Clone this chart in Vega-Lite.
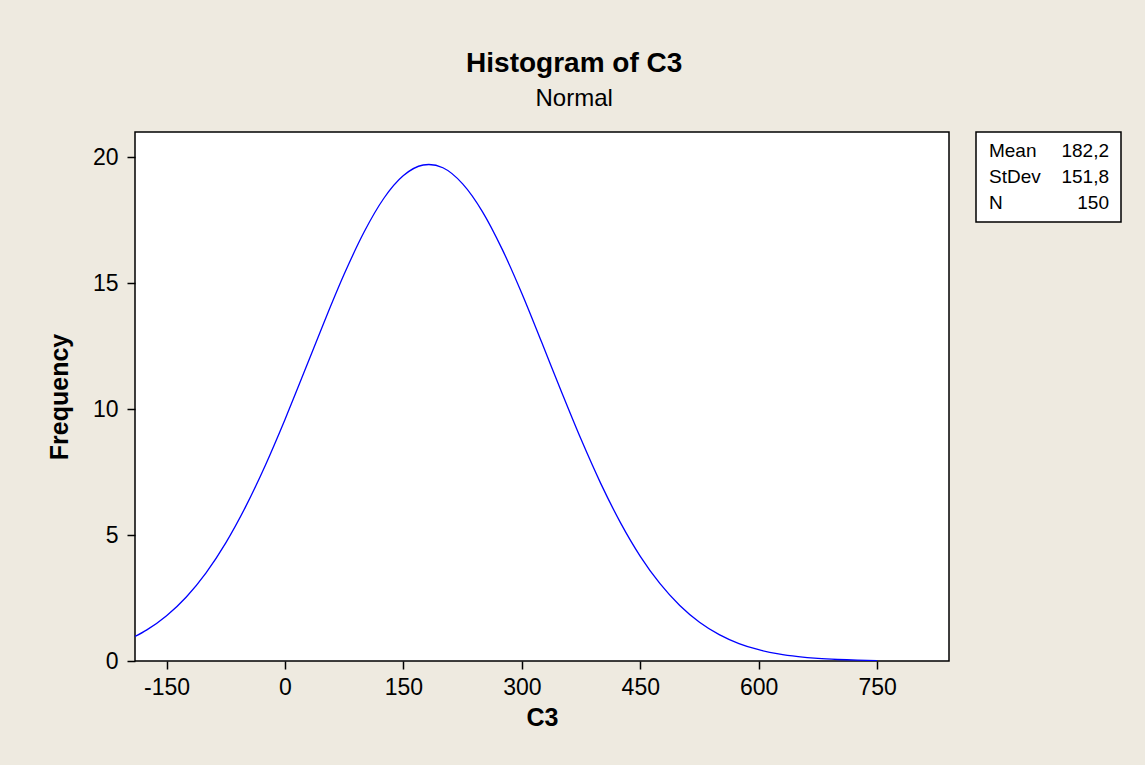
{
  "$schema": "https://vega.github.io/schema/vega-lite/v6.json",
  "background": "#EEEAE0",
  "padding": {"left": 46, "top": 50, "right": 30, "bottom": 50},
  "title": {
    "text": "Histogram of C3",
    "subtitle": "Normal",
    "font": "Liberation Sans",
    "fontSize": 28,
    "fontWeight": "bold",
    "color": "#000000",
    "subtitleFont": "Liberation Sans",
    "subtitleFontSize": 24,
    "subtitleColor": "#000000",
    "subtitlePadding": 9,
    "anchor": "middle",
    "offset": 20,
    "dx": -10
  },
  "datasets": {
    "curve": [
      {"x": -190, "f": 0.976},
      {"x": -175, "f": 1.237},
      {"x": -150, "f": 1.798},
      {"x": -125, "f": 2.543},
      {"x": -100, "f": 3.501},
      {"x": -75, "f": 4.691},
      {"x": -50, "f": 6.118},
      {"x": -25, "f": 7.765},
      {"x": 0, "f": 9.591},
      {"x": 25, "f": 11.53},
      {"x": 50, "f": 13.49},
      {"x": 75, "f": 15.36},
      {"x": 100, "f": 17.02},
      {"x": 125, "f": 18.36},
      {"x": 150, "f": 19.27},
      {"x": 175, "f": 19.69},
      {"x": 182.2, "f": 19.71},
      {"x": 200, "f": 19.58},
      {"x": 225, "f": 18.94},
      {"x": 250, "f": 17.84},
      {"x": 275, "f": 16.35},
      {"x": 300, "f": 14.59},
      {"x": 325, "f": 12.66},
      {"x": 350, "f": 10.70},
      {"x": 375, "f": 8.799},
      {"x": 400, "f": 7.042},
      {"x": 425, "f": 5.485},
      {"x": 450, "f": 4.157},
      {"x": 475, "f": 3.068},
      {"x": 500, "f": 2.203},
      {"x": 525, "f": 1.539},
      {"x": 550, "f": 1.047},
      {"x": 575, "f": 0.693},
      {"x": 600, "f": 0.447},
      {"x": 625, "f": 0.280},
      {"x": 650, "f": 0.171},
      {"x": 675, "f": 0.101},
      {"x": 700, "f": 0.059},
      {"x": 725, "f": 0.033},
      {"x": 750, "f": 0.018}
    ],
    "stats": [
      {"stat": "Mean", "value": "182,2"},
      {"stat": "StDev", "value": "151,8"},
      {"stat": "N", "value": "150"}
    ]
  },
  "hconcat": [
    {
      "width": 814,
      "height": 529,
      "view": {"fill": "#FFFFFF", "stroke": "#000000", "strokeWidth": 1.5},
      "data": {"name": "curve"},
      "mark": {"type": "line", "color": "#0000FF", "strokeWidth": 1.3, "interpolate": "monotone", "clip": true},
      "encoding": {
        "x": {
          "field": "x", "type": "quantitative", "title": "C3",
          "scale": {"domain": [-190, 841], "nice": false, "zero": false},
          "axis": {"values": [-150, 0, 150, 300, 450, 600, 750], "labelExpr": "replace(datum.label, '\u2212', '-')", "grid": false, "domain": false, "tickSize": 8, "tickColor": "#000000", "labelPadding": 7, "titlePadding": 6}
        },
        "y": {
          "field": "f", "type": "quantitative", "title": "Frequency",
          "scale": {"domain": [0, 21], "nice": false},
          "axis": {"values": [0, 5, 10, 15, 20], "grid": false, "domain": false, "tickSize": 8, "tickColor": "#000000", "labelPadding": 9, "titlePadding": 20}
        }
      }
    },
    {
      "width": 145,
      "height": 90,
      "view": {"fill": "#FFFFFF", "stroke": "#000000", "strokeWidth": 1.5},
      "data": {"name": "stats"},
      "encoding": {
        "y": {"field": "stat", "type": "nominal", "sort": null, "scale": {"type": "point", "padding": 0.7}, "axis": null}
      },
      "layer": [
        {
          "mark": {"type": "text", "align": "left", "baseline": "middle", "font": "Liberation Sans", "fontSize": 19, "color": "#000000"},
          "encoding": {
            "x": {"datum": 0, "type": "quantitative", "scale": {"domain": [-0.108, 1.1], "nice": false, "zero": false}, "axis": null},
            "text": {"field": "stat"}
          }
        },
        {
          "mark": {"type": "text", "align": "right", "baseline": "middle", "font": "Liberation Sans", "fontSize": 19, "color": "#000000"},
          "encoding": {
            "x": {"datum": 1, "type": "quantitative", "scale": {"domain": [-0.108, 1.1], "nice": false, "zero": false}, "axis": null},
            "text": {"field": "value"}
          }
        }
      ]
    }
  ],
  "spacing": 25,
  "config": {
    "axis": {
      "labelFont": "Liberation Sans",
      "labelFontSize": 23,
      "labelColor": "#000000",
      "titleFont": "Liberation Sans",
      "titleFontSize": 25,
      "titleFontWeight": "bold",
      "titleColor": "#000000",
      "tickWidth": 1.5
    }
  }
}
